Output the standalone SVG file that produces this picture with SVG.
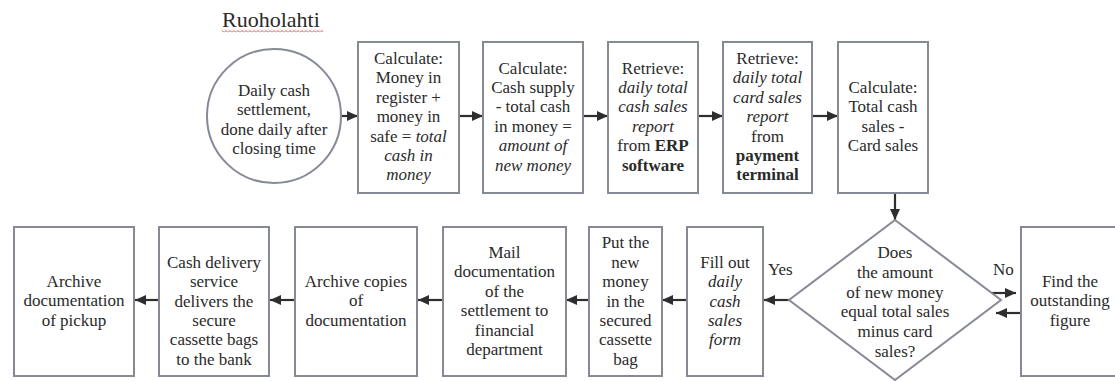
<svg xmlns="http://www.w3.org/2000/svg" width="1115" height="381" viewBox="0 0 1115 381">
<defs>
<style>
.box{fill:#ffffff;stroke:#868a95;stroke-width:2}
.t{font-family:"Liberation Serif","Times New Roman",serif;font-size:17px;fill:#2a2a2a;text-anchor:middle}
.i{font-style:italic}
.b{font-weight:bold}
.c{stroke:#2e2e2e;stroke-width:2.2;fill:none;marker-end:url(#ah)}
.lbl{font-family:"Liberation Serif","Times New Roman",serif;font-size:17px;fill:#2a2a2a}
</style>
<marker id="ah" markerUnits="userSpaceOnUse" markerWidth="11" markerHeight="10" refX="11" refY="5" orient="auto">
<path d="M0,0 L11,5 L0,10 z" fill="#2e2e2e"/>
</marker>
<pattern id="squig" width="4" height="3" patternUnits="userSpaceOnUse">
<path d="M0,2.5 L2,0.5 L4,2.5" fill="none" stroke="#e03c3c" stroke-width="0.9"/>
</pattern>
</defs>
<rect width="1115" height="381" fill="#ffffff"/>
<text x="222" y="27" font-family="Liberation Serif, Times New Roman, serif" font-size="22" fill="#2a2a2a">Ruoholahti</text>
<rect x="222" y="29.5" width="101" height="3" fill="url(#squig)"/>

<g id="connectors">
<line class="c" x1="341" y1="116" x2="358" y2="116"/>
<line class="c" x1="459" y1="116" x2="483" y2="116"/>
<line class="c" x1="583" y1="116" x2="608" y2="116"/>
<line class="c" x1="698" y1="116" x2="723" y2="116"/>
<line class="c" x1="812" y1="116" x2="838" y2="116"/>
<line class="c" x1="895" y1="193" x2="895" y2="220"/>
<line class="c" x1="789" y1="300" x2="764" y2="300"/>
<line class="c" x1="687" y1="300" x2="662" y2="300"/>
<line class="c" x1="589" y1="300" x2="566" y2="300"/>
<line class="c" x1="443" y1="300" x2="418" y2="300"/>
<line class="c" x1="295" y1="300" x2="270" y2="300"/>
<line class="c" x1="159" y1="300" x2="135" y2="300"/>
<line class="c" x1="992" y1="293" x2="1016" y2="293"/>
<line class="c" x1="1021" y1="313" x2="996" y2="313"/>
<text class="lbl" x="768" y="275">Yes</text>
<text class="lbl" x="993" y="275">No</text>
</g>

<g id="start">
<circle cx="274" cy="116" r="67" fill="#ffffff" stroke="#868a95" stroke-width="2"/>
<text class="t"><tspan x="274" y="96">Daily cash</tspan><tspan x="274" dy="19.4">settlement,</tspan><tspan x="274" dy="19.4">done daily after</tspan><tspan x="274" dy="19.4">closing time</tspan></text>
</g>

<g id="calc1">
<rect class="box" x="358" y="42" width="101" height="151"/>
<text class="t"><tspan x="408.5" y="64">Calculate:</tspan><tspan x="408.5" dy="19.4">Money in</tspan><tspan x="408.5" dy="19.4">register +</tspan><tspan x="408.5" dy="19.4">money in</tspan><tspan x="408.5" dy="19.4">safe = <tspan class="i">total</tspan></tspan><tspan x="408.5" dy="19.4" class="i">cash in</tspan><tspan x="408.5" dy="19.4" class="i">money</tspan></text>
</g>

<g id="calc2">
<rect class="box" x="483" y="42" width="100" height="151"/>
<text class="t"><tspan x="533" y="73.5">Calculate:</tspan><tspan x="533" dy="19.4">Cash supply</tspan><tspan x="533" dy="19.4">- total cash</tspan><tspan x="533" dy="19.4">in money =</tspan><tspan x="533" dy="19.4" class="i">amount of</tspan><tspan x="533" dy="19.4" class="i">new money</tspan></text>
</g>

<g id="retrieve1">
<rect class="box" x="608" y="42" width="90" height="151"/>
<text class="t"><tspan x="653" y="73.5">Retrieve:</tspan><tspan x="653" dy="19.4" class="i">daily total</tspan><tspan x="653" dy="19.4" class="i">cash sales</tspan><tspan x="653" dy="19.4" class="i">report</tspan><tspan x="653" dy="19.4">from <tspan class="b">ERP</tspan></tspan><tspan x="653" dy="19.4" class="b">software</tspan></text>
</g>

<g id="retrieve2">
<rect class="box" x="723" y="42" width="89" height="151"/>
<text class="t"><tspan x="767.5" y="64">Retrieve:</tspan><tspan x="767.5" dy="19.4" class="i">daily total</tspan><tspan x="767.5" dy="19.4" class="i">card sales</tspan><tspan x="767.5" dy="19.4" class="i">report</tspan><tspan x="767.5" dy="19.4">from</tspan><tspan x="767.5" dy="19.4" class="b">payment</tspan><tspan x="767.5" dy="19.4" class="b">terminal</tspan></text>
</g>

<g id="calc3">
<rect class="box" x="838" y="42" width="90" height="151"/>
<text class="t"><tspan x="883" y="93">Calculate:</tspan><tspan x="883" dy="19.4">Total cash</tspan><tspan x="883" dy="19.4">sales -</tspan><tspan x="883" dy="19.4">Card sales</tspan></text>
</g>

<g id="decision">
<polygon points="895,220 1001,300 895,380 789,300" fill="#ffffff" stroke="#868a95" stroke-width="2"/>
<text class="t"><tspan x="895" y="258">Does</tspan><tspan x="895" dy="19.8">the amount</tspan><tspan x="895" dy="19.8">of new money</tspan><tspan x="895" dy="19.8">equal total sales</tspan><tspan x="895" dy="19.8">minus card</tspan><tspan x="895" dy="19.8">sales?</tspan></text>
</g>

<g id="find">
<rect class="box" x="1021" y="227" width="100" height="149"/>
<text class="t"><tspan x="1070" y="287">Find the</tspan><tspan x="1070" dy="19.4">outstanding</tspan><tspan x="1070" dy="19.4">figure</tspan></text>
</g>

<g id="fillout">
<rect class="box" x="687" y="227" width="76" height="149"/>
<text class="t"><tspan x="725" y="267.7">Fill out</tspan><tspan x="725" dy="19.4" class="i">daily</tspan><tspan x="725" dy="19.4" class="i">cash</tspan><tspan x="725" dy="19.4" class="i">sales</tspan><tspan x="725" dy="19.4" class="i">form</tspan></text>
</g>

<g id="putmoney">
<rect class="box" x="589" y="227" width="73" height="149"/>
<text class="t"><tspan x="625.5" y="248.3">Put the</tspan><tspan x="625.5" dy="19.4">new</tspan><tspan x="625.5" dy="19.4">money</tspan><tspan x="625.5" dy="19.4">in the</tspan><tspan x="625.5" dy="19.4">secured</tspan><tspan x="625.5" dy="19.4">cassette</tspan><tspan x="625.5" dy="19.4">bag</tspan></text>
</g>

<g id="mail">
<rect class="box" x="443" y="227" width="123" height="149"/>
<text class="t"><tspan x="504.5" y="258">Mail</tspan><tspan x="504.5" dy="19.4">documentation</tspan><tspan x="504.5" dy="19.4">of the</tspan><tspan x="504.5" dy="19.4">settlement to</tspan><tspan x="504.5" dy="19.4">financial</tspan><tspan x="504.5" dy="19.4">department</tspan></text>
</g>

<g id="archivecopies">
<rect class="box" x="295" y="227" width="122" height="149"/>
<text class="t"><tspan x="356" y="287">Archive copies</tspan><tspan x="356" dy="19.4">of</tspan><tspan x="356" dy="19.4">documentation</tspan></text>
</g>

<g id="delivery">
<rect class="box" x="159" y="227" width="110" height="149"/>
<text class="t"><tspan x="214" y="267.7">Cash delivery</tspan><tspan x="214" dy="19.4">service</tspan><tspan x="214" dy="19.4">delivers the</tspan><tspan x="214" dy="19.4">secure</tspan><tspan x="214" dy="19.4">cassette bags</tspan><tspan x="214" dy="19.4">to the bank</tspan></text>
</g>

<g id="archivepickup">
<rect class="box" x="14" y="227" width="120" height="149"/>
<text class="t"><tspan x="74" y="287">Archive</tspan><tspan x="74" dy="19.4">documentation</tspan><tspan x="74" dy="19.4">of pickup</tspan></text>
</g>
</svg>
